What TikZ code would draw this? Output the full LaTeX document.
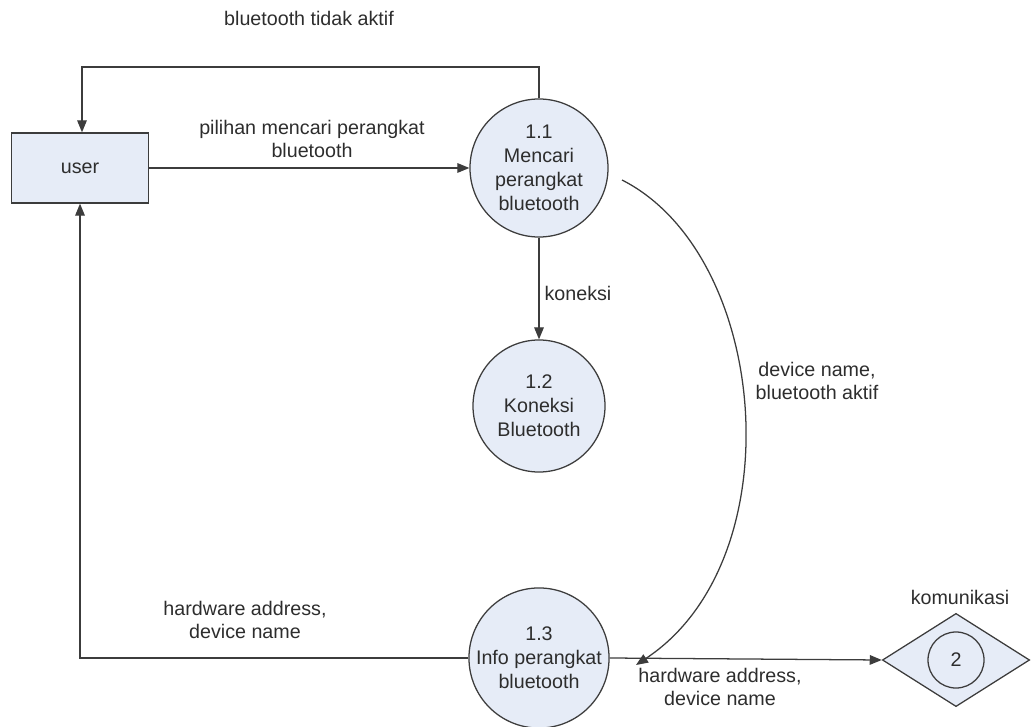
\documentclass[tikz,border=0pt]{standalone}
\usepackage{fontspec}
\setmainfont{Liberation Sans}
\usepackage{xcolor}
\usetikzlibrary{arrows.meta,shapes.geometric}

\definecolor{procfill}{RGB}{230,236,247}
\definecolor{linegray}{RGB}{60,60,60}
\definecolor{txtgray}{RGB}{45,45,45}

\begin{document}
\begin{tikzpicture}[
    x=0.025cm, y=-0.025cm,
    every node/.style={font=\fontsize{14}{17}\selectfont, text=txtgray},
    entity/.style={rectangle,draw=linegray,line width=0.9pt,fill=procfill,minimum width=3.42cm,minimum height=1.75cm,inner sep=0pt},
    process/.style={circle,draw=linegray,line width=0.9pt,fill=procfill,inner sep=0pt,align=center},
    store/.style={diamond,draw=linegray,line width=0.9pt,fill=procfill,minimum width=3.68cm,minimum height=2.33cm,inner sep=0pt},
    flow/.style={-{Triangle[length=3mm,width=2.4mm]},line width=0.9pt,linegray},
    lbl/.style={align=center}
]
\useasboundingbox (0,0) rectangle (1032,727);

%%% external entity
\node[entity] (user) at (80,168) {user};

%%% processes
\node[process,minimum size=3.45cm] (p11) at (539,168) {1.1\\Mencari\\perangkat\\bluetooth};
\node[process,minimum size=3.3cm]  (p12) at (539,406) {1.2\\Koneksi\\Bluetooth};
\node[process,minimum size=3.42cm] (p13) at (539,658) {1.3\\Info perangkat\\bluetooth};

%%% module 2 (komunikasi)
\node[store] (kom) at (956,660) {};
\node[circle,draw=linegray,line width=0.9pt,minimum size=1.4cm,inner sep=0pt] (kom2) at (kom.center) {2};
\node[lbl] (komlbl) at (960,597) {komunikasi};

% free ends of the curved flow
\coordinate (arcstart) at (622,180);
\coordinate (arcend) at (636,665);
\coordinate (loop) at (82,67);

% user -> 1.1
\draw[flow] (user) -- (p11);
\node[lbl] at (312,139) {pilihan mencari perangkat\\bluetooth};

% 1.1 -> user (bluetooth off)
\draw[flow] (p11.north) |- (loop) -- (user.north -| loop);
\node[lbl] at (309,18) {bluetooth tidak aktif};

% 1.1 -> 1.2
\draw[flow] (p11) -- (p12);
\node[lbl] at (578,293) {koneksi};

% 1.1 -> 1.3
\draw[flow] (arcstart) .. controls (770,255) and (795,560) .. (arcend);
\node[lbl] at (817,381) {device name,\\bluetooth aktif};

% 1.3 -> user
\draw[flow] (p13.west) -| (user.south);
\node[lbl] at (245,620) {hardware address,\\device name};

% 1.3 -> komunikasi
\draw[flow] (p13.east) -- (kom.west);
\node[lbl] at (720,687) {hardware address,\\device name};
\end{tikzpicture}
\end{document}
